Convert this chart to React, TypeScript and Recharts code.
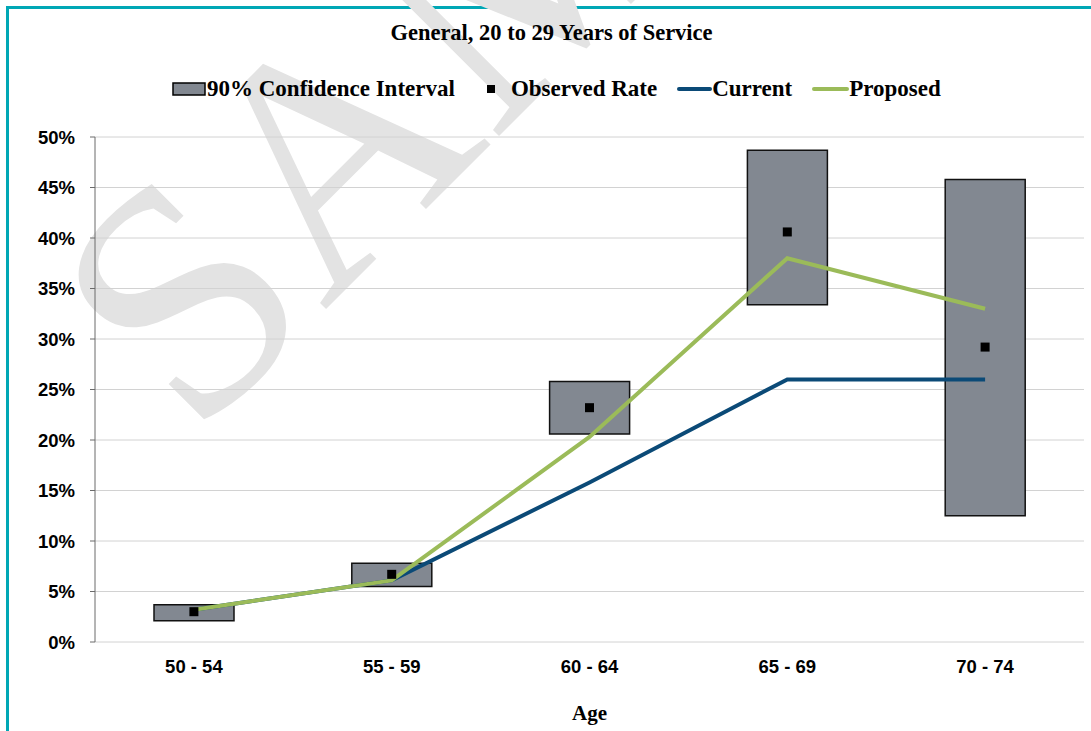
import { ComposedChart, Bar, Line, XAxis, YAxis, CartesianGrid, Legend } from "recharts";

// age bands and rates (percent)
const ageGroups = ["50 - 54", "55 - 59", "60 - 64", "65 - 69", "70 - 74"];
const ciLow = [2.1, 5.5, 20.6, 33.4, 12.5];
const ciHigh = [3.7, 7.8, 25.8, 48.7, 45.8];
const observedRate = [3.0, 6.7, 23.2, 40.6, 29.2];
const currentRate = [3.2, 6.1, 15.8, 26.0, 26.0];
const proposedRate = [3.2, 6.1, 20.3, 38.0, 33.0];
const yTicks = [0, 5, 10, 15, 20, 25, 30, 35, 40, 45, 50];
const bandEdges = [0, 1, 2, 3, 4, 5];

const data = ageGroups.map((age, i) => ({
  age,
  ci: [ciLow[i], ciHigh[i]],
  observed: observedRate[i],
  current: currentRate[i],
  proposed: proposedRate[i],
}));

const ciFill = "#828891";
const currentColor = "#0B4A77";
const proposedColor = "#9BBB59";
const serif = '"Liberation Serif", "Times New Roman", serif';
const sans = '"Liberation Sans", Arial, sans-serif';

const renderSquare = (props: any) => {
  const { cx, cy, index } = props;
  if (cx == null || cy == null) return <g key={index} />;
  return <rect key={index} x={cx - 4.5} y={cy - 4.5} width={9} height={9} fill="#000" />;
};

const LegendContent = () => (
  <div
    style={{
      display: "flex",
      alignItems: "center",
      fontFamily: serif,
      fontWeight: "bold",
      fontSize: 23,
      color: "#000",
      whiteSpace: "nowrap",
      lineHeight: "30px",
    }}
  >
    <svg width={34} height={14}>
      <rect x={1} y={1} width={32} height={12} fill={ciFill} stroke="#000" strokeWidth={1.5} />
    </svg>
    <span style={{ marginLeft: 1 }}>90% Confidence Interval</span>
    <svg width={8} height={8} style={{ marginLeft: 32 }}>
      <rect width={8} height={8} fill="#000" />
    </svg>
    <span style={{ marginLeft: 16 }}>Observed Rate</span>
    <svg width={35} height={4} style={{ marginLeft: 20 }}>
      <line x1={2} y1={2} x2={33} y2={2} stroke={currentColor} strokeWidth={4} strokeLinecap="round" />
    </svg>
    <span>Current</span>
    <svg width={37} height={4} style={{ marginLeft: 20 }}>
      <line x1={2} y1={2} x2={35} y2={2} stroke={proposedColor} strokeWidth={4} strokeLinecap="round" />
    </svg>
    <span>Proposed</span>
  </div>
);

export default function App() {
  return (
    <div style={{ position: "absolute", left: 0, top: 0, width: 1091, height: 731, overflow: "hidden", background: "#fff" }}>
      {/* frame */}
      <div
        style={{
          position: "absolute",
          left: 6,
          top: 6,
          width: 1200,
          height: 900,
          border: "3px solid #00A7B5",
          boxSizing: "border-box",
        }}
      />
      {/* watermark */}
      <svg width={1091} height={731} style={{ position: "absolute", left: 0, top: 0 }}>
        <text
          transform="translate(194 441) rotate(-45)"
          fontFamily={serif}
          fontSize={330}
          fill="#e3e3e3"
        >
          SAMPLE
        </text>
      </svg>
      <div
        style={{
          position: "absolute",
          left: 0,
          top: 20,
          width: 1103,
          textAlign: "center",
          fontFamily: serif,
          fontWeight: "bold",
          fontSize: 22.5,
          color: "#000",
        }}
      >
        General, 20 to 29 Years of Service
      </div>
      <div style={{ position: "absolute", left: 0, top: 0 }}>
        <ComposedChart
          width={1091}
          height={731}
          data={data}
          margin={{ top: 107, right: 7, bottom: 29, left: 35 }}
        >
          <CartesianGrid vertical={false} stroke="#d2d2d2" />
          <XAxis
            xAxisId="edges"
            type="number"
            domain={[0, 5]}
            ticks={bandEdges}
            allowDataOverflow
            height={0}
            tick={false}
            tickSize={7}
            stroke="#6b6b6b"
          />
          <XAxis
            dataKey="age"
            height={60}
            axisLine={false}
            tickLine={false}
            tickSize={8}
            tickMargin={10}
            tick={{ fill: "#000", fontSize: 18.5, fontWeight: "bold", fontFamily: sans }}
            label={{ value: "Age", position: "bottom", offset: 3, fill: "#000", fontSize: 21, fontWeight: "bold", fontFamily: serif }}
          />
          <YAxis
            domain={[0, 50]}
            ticks={yTicks}
            width={60}
            tickSize={5}
            tickMargin={15}
            tickFormatter={(v: number) => `${v}%`}
            stroke="#6b6b6b"
            tick={{ fill: "#000", fontSize: 18.5, fontWeight: "bold", fontFamily: sans }}
          />
          <Legend
            verticalAlign="top"
            content={LegendContent}
            wrapperStyle={{ top: 74, left: 172, width: "auto" }}
          />
          <Bar dataKey="ci" name="90% Confidence Interval" barSize={80} fill={ciFill} stroke="#111" strokeWidth={1.5} isAnimationActive={false} />
          <Line dataKey="current" name="Current" stroke={currentColor} strokeWidth={4} dot={false} type="linear" isAnimationActive={false} />
          <Line dataKey="proposed" name="Proposed" stroke={proposedColor} strokeWidth={4} dot={false} type="linear" isAnimationActive={false} />
          <Line dataKey="observed" name="Observed Rate" stroke="none" dot={renderSquare} activeDot={false} isAnimationActive={false} />
        </ComposedChart>
      </div>
    </div>
  );
}
